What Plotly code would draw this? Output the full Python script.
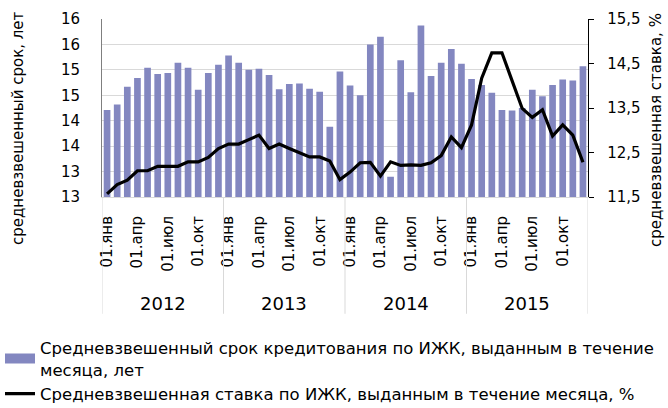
import plotly.graph_objects as go

months = ["янв", "фев", "мар", "апр", "май", "июн", "июл", "авг", "сен", "окт", "ноя", "дек"]
years = ["2012", "2013", "2014", "2015"]
categories = [f"01.{m} {y}" for y in years for m in months]

term_years = [
    14.21, 14.32, 14.67, 14.84, 15.04, 14.92, 14.94, 15.14, 15.04, 14.61, 14.94, 15.10,
    15.28, 15.14, 15.00, 15.02, 14.90, 14.62, 14.72, 14.73, 14.63, 14.57, 13.88, 14.97,
    14.69, 14.50, 15.50, 15.65, 12.90, 15.19, 14.56, 15.87, 14.88, 15.14, 15.41, 15.12,
    14.82, 14.70, 14.55, 14.21, 14.20, 14.25, 14.61, 14.48, 14.70, 14.81, 14.79, 15.07,
]
rate_pct = [
    11.57, 11.78, 11.88, 12.09, 12.09, 12.19, 12.19, 12.19, 12.29, 12.29, 12.39, 12.59,
    12.69, 12.69, 12.79, 12.89, 12.59, 12.69, 12.59, 12.49, 12.40, 12.40, 12.31, 11.89,
    12.06, 12.27, 12.28, 11.97, 12.29, 12.21, 12.22, 12.21, 12.27, 12.43, 12.85, 12.61,
    13.12, 14.17, 14.74, 14.74, 14.10, 13.49, 13.29, 13.46, 12.87, 13.12, 12.89, 12.28,
]

x_tick_pos = [i for i in range(48) if i % 3 == 0]
x_tick_text = [f"01.{months[i % 12]}" for i in x_tick_pos]
left_tick_vals = [12.5, 13.0, 13.5, 14.0, 14.5, 15.0, 15.5, 16.0]
left_tick_text = ["13", "13", "14", "14", "15", "15", "16", "16"]
right_tick_vals = [11.5, 12.5, 13.5, 14.5, 15.5]
right_tick_text = ["11,5", "12,5", "13,5", "14,5", "15,5"]

name_bar = "Средневзвешенный срок кредитования по ИЖК, выданным в течение<br>месяца, лет"
name_line = "Средневзвешенная ставка по ИЖК, выданным в течение месяца, %"
title_left = "средневзвешенный срок, лет"
title_right = "средневзвешенная ставка, %"

FONT = "DejaVu Sans"
BAR_COLOR = "#8387C0"
xs = list(range(48))

fig = go.Figure()
fig.add_trace(go.Bar(x=xs, y=term_years, name=name_bar, marker_color=BAR_COLOR,
                     marker_line_width=0, width=0.66, yaxis="y", showlegend=False,
                     legendgroup="bar"))
# legend-only entry giving the wide rectangular swatch of the reference
fig.add_trace(go.Scatter(x=[None], y=[None], name=name_bar, mode="lines", legendgroup="bar",
                         line=dict(color=BAR_COLOR, width=12), yaxis="y", hoverinfo="skip"))
fig.add_trace(go.Scatter(x=xs, y=rate_pct, name=name_line, mode="lines",
                         line=dict(color="black", width=3.2), yaxis="y2"))

fig.update_layout(
    width=668, height=408,
    margin=dict(l=102, r=80, t=19, b=211, autoexpand=False),
    paper_bgcolor="white", plot_bgcolor="white",
    font=dict(family=FONT, color="black", size=15),
    bargap=0.34,
    xaxis=dict(range=[-0.5, 47.5], tickmode="array", tickvals=x_tick_pos, ticktext=x_tick_text,
               tickangle=-90, showgrid=False, showline=True, linecolor="#d9d9d9", linewidth=1,
               ticks="", tickfont=dict(size=15), ticklabelstandoff=12, zeroline=False,
               automargin=False),
    yaxis=dict(range=[12.5, 16.0], tickmode="array", tickvals=left_tick_vals, ticktext=left_tick_text,
               showgrid=True, gridcolor="#d9d9d9", gridwidth=1, showline=True, linecolor="#7f7f7f",
               linewidth=1, ticks="", tickfont=dict(size=15), ticklabelstandoff=18, zeroline=False,
               automargin=False),
    yaxis2=dict(range=[11.5, 15.5], overlaying="y", side="right", tickmode="array",
                tickvals=right_tick_vals, ticktext=right_tick_text, showgrid=False, showline=True,
                linecolor="black", linewidth=1.3, ticks="outside", ticklen=5, tickcolor="black",
                tickfont=dict(size=15), ticklabelstandoff=10, zeroline=False, automargin=False),
    legend=dict(orientation="v", xref="container", yref="container", x=0.0, xanchor="left",
                y=0.19, yanchor="top", font=dict(size=16.5), traceorder="normal",
                bgcolor="rgba(0,0,0,0)", tracegroupgap=2),
    showlegend=True,
)

# year labels and separators of the two-level category axis
for k, yr in enumerate(years):
    fig.add_annotation(x=5.5 + 12 * k, y=-0.6, xref="x", yref="paper", text=yr,
                       showarrow=False, font=dict(size=18), xanchor="center", yanchor="middle")
for b in [-0.5, 11.5, 23.5, 35.5, 47.5]:
    fig.add_shape(type="line", x0=b, x1=b, y0=0, y1=-0.656, xref="x", yref="paper",
                  line=dict(color="#d9d9d9", width=1))

fig.add_annotation(x=(18 - 102) / 486, y=(197 - 128) / 178, xref="paper", yref="paper",
                   text=title_left, textangle=-90, showarrow=False, font=dict(size=15),
                   xanchor="center", yanchor="middle")
fig.add_annotation(x=(656 - 102) / 486, y=(197 - 130) / 178, xref="paper", yref="paper",
                   text=title_right, textangle=-90, showarrow=False, font=dict(size=15),
                   xanchor="center", yanchor="middle")

fig.write_html("out.html", config={"displayModeBar": False},
               post_script="document.body.style.margin='0px';document.body.style.padding='0px';")
